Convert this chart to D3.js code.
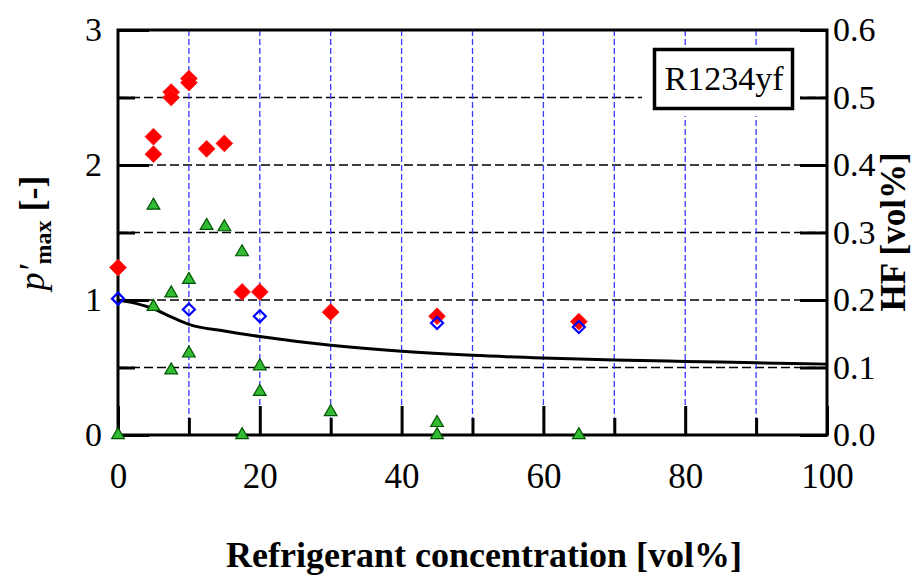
<!DOCTYPE html>
<html>
<head>
<meta charset="utf-8">
<script src="https://cdn.jsdelivr.net/npm/d3@7"></script>
<style>
  html, body { margin: 0; padding: 0; background: #fff; }
  svg, svg text { font-family: "Liberation Serif", "Times New Roman", serif !important; }
</style>
</head>
<body>
<svg id="chart" width="914" height="576"></svg>
<script>
// ---------------- data ----------------
const xTicks = [0, 20, 40, 60, 80, 100];
const xMinorTicks = [10, 30, 50, 70, 90];
const yLeftTicks = [0, 1, 2, 3];
const yLeftMinorTicks = [0.5, 1.5, 2.5];
const yRightTicks = [0, 0.1, 0.2, 0.3, 0.4, 0.5, 0.6];

// red filled diamonds: p'max (left axis)
const redConc = [0, 5, 5, 7.5, 7.5, 10, 10, 12.5, 15, 17.5, 20, 30, 45, 65];
const redP    = [1.24, 2.21, 2.08, 2.54, 2.50, 2.64, 2.61, 2.12, 2.16, 1.06, 1.06, 0.91, 0.88, 0.84];

// blue open diamonds: p'max (left axis)
const blueConc = [0, 10, 20, 45, 65];
const blueP    = [1.01, 0.93, 0.88, 0.83, 0.80];

// green triangles: HF [vol%] (right axis)
const greenConc = [0, 5, 5, 7.5, 7.5, 10, 10, 12.5, 15, 17.5, 17.5, 20, 20, 30, 45, 45, 65];
const greenHF   = [0, 0.34, 0.19, 0.21, 0.096, 0.23, 0.121, 0.31, 0.308, 0.271, 0, 0.102, 0.064, 0.034, 0.018, 0, 0];

// black solid curve: p'max (left axis)
const curveConc = [0, 2.5, 5, 7.5, 10, 15, 20, 30, 40, 50, 60, 70, 80, 90, 100];
const curveP    = [1.0, 0.975, 0.935, 0.875, 0.82, 0.77, 0.73, 0.665, 0.62, 0.59, 0.57, 0.555, 0.545, 0.535, 0.525];

const legendLabel = "R1234yf";

// ---------------- layout ----------------
const FONT = "'Liberation Serif', 'Times New Roman', serif";
const L = 118, R = 827, T = 30, B = 435;
const svg = d3.select("#chart");

const x  = d3.scaleLinear().domain([0, 100]).range([L, R]);
const yL = d3.scaleLinear().domain([0, 3]).range([B, T]);
const yR = d3.scaleLinear().domain([0, 0.6]).range([B, T]);

// square diamond symbol (rotated square)
const squareDiamond = {
  draw(ctx, size) {
    const r = Math.sqrt(size / 2);
    ctx.moveTo(0, -r); ctx.lineTo(r, 0); ctx.lineTo(0, r); ctx.lineTo(-r, 0); ctx.closePath();
  }
};

// ---------------- grid ----------------
const grid = svg.append("g");
grid.selectAll("line.h")
  .data([0.5, 1, 1.5, 2, 2.5])
  .join("line")
  .attr("x1", L).attr("x2", R)
  .attr("y1", d => yL(d)).attr("y2", d => yL(d))
  .attr("stroke", "#000").attr("stroke-width", 1.6)
  .attr("stroke-dasharray", "9,4");
grid.selectAll("line.v")
  .data(d3.range(10, 100, 10))
  .join("line")
  .attr("x1", d => x(d)).attr("x2", d => x(d))
  .attr("y1", T).attr("y2", B)
  .attr("stroke", "#3838ff").attr("stroke-width", 1.3)
  .attr("stroke-dasharray", "6,3");

// ---------------- legend box (covers grid) ----------------
svg.append("rect")
  .attr("x", 642).attr("y", 45).attr("width", 158).attr("height", 71)
  .attr("fill", "#fff");
svg.append("rect")
  .attr("x", 654.5).attr("y", 49.5).attr("width", 138).attr("height", 59)
  .attr("fill", "#fff").attr("stroke", "#000").attr("stroke-width", 3.5);
svg.append("text")
  .attr("x", 724).attr("y", 90)
  .attr("text-anchor", "middle")
  .style("font-family", FONT)
  .attr("font-size", 34)
  .text(legendLabel);

// ---------------- axes ----------------
function styleAxis(g, fs) {
  g.attr("font-family", null);
  g.select(".domain").remove();
  g.selectAll(".tick line").attr("stroke", "#000").attr("stroke-width", 3);
  g.selectAll(".tick text").attr("fill", "#000").attr("font-size", fs)
    .style("font-family", FONT);
}

// left axis
svg.append("g").attr("transform", `translate(${L},0)`)
  .call(d3.axisLeft(yL).tickValues(yLeftTicks).tickSize(-31).tickPadding(16).tickFormat(d3.format("d")))
  .call(g => styleAxis(g, 34));
svg.append("g").attr("transform", `translate(${L},0)`)
  .call(d3.axisLeft(yL).tickValues(yLeftMinorTicks).tickSize(-17).tickFormat(""))
  .call(g => styleAxis(g, 34));

// right axis
svg.append("g").attr("transform", `translate(${R},0)`)
  .call(d3.axisRight(yR).tickValues(yRightTicks).tickSize(-27).tickPadding(6).tickFormat(d3.format(".1f")))
  .call(g => styleAxis(g, 34));

// bottom axis
svg.append("g").attr("transform", `translate(0,${B})`)
  .call(d3.axisBottom(x).tickValues(xTicks).tickSize(-29).tickPadding(28).tickFormat(d3.format("d")))
  .call(g => styleAxis(g, 35));
svg.append("g").attr("transform", `translate(0,${B})`)
  .call(d3.axisBottom(x).tickValues(xMinorTicks).tickSize(-17).tickFormat(""))
  .call(g => styleAxis(g, 35));

// frame
svg.append("rect")
  .attr("x", L).attr("y", T).attr("width", R - L).attr("height", B - T)
  .attr("fill", "none").attr("stroke", "#000").attr("stroke-width", 3);

// ---------------- curve ----------------
const line = d3.line()
  .x((d, i) => x(curveConc[i]))
  .y((d, i) => yL(curveP[i]))
  .curve(d3.curveMonotoneX);
svg.append("path")
  .attr("d", line(curveConc))
  .attr("fill", "none").attr("stroke", "#000").attr("stroke-width", 3);

// ---------------- markers ----------------
const diamondRed = d3.symbol().type(squareDiamond).size(140);
svg.append("g").selectAll("path")
  .data(redConc.map((c, i) => [c, redP[i]]))
  .join("path")
  .attr("transform", d => `translate(${x(d[0])},${yL(d[1])})`)
  .attr("d", diamondRed)
  .attr("fill", "#ff0000").attr("stroke", "#ff2020").attr("stroke-width", 1);

const diamondBlue = d3.symbol().type(squareDiamond).size(72);
svg.append("g").selectAll("path")
  .data(blueConc.map((c, i) => [c, blueP[i]]))
  .join("path")
  .attr("transform", d => `translate(${x(d[0])},${yL(d[1])})`)
  .attr("d", diamondBlue)
  .attr("fill", "none").attr("stroke", "#0000ff").attr("stroke-width", 2.2);

const tri = d3.symbol().type(d3.symbolTriangle).size(70);
svg.append("g").selectAll("path")
  .data(greenConc.map((c, i) => [c, greenHF[i]]))
  .join("path")
  .attr("transform", d => `translate(${x(d[0])},${yR(d[1])})`)
  .attr("d", tri)
  .attr("fill", "#33bb33").attr("stroke", "#005500").attr("stroke-width", 1.2);

// ---------------- axis titles ----------------
const yt = svg.append("text")
  .attr("transform", "translate(44,233) rotate(-90)")
  .attr("text-anchor", "middle")
  .style("font-family", FONT)
  .attr("font-size", 36).attr("fill", "#000");
yt.append("tspan").attr("font-style", "italic").text("p′");
yt.append("tspan").attr("font-weight", "bold").attr("font-size", 24).attr("dy", 7).text("max");
yt.append("tspan").attr("font-weight", "bold").attr("dy", -7).text(" [-]");

svg.append("text")
  .attr("transform", "translate(905,232) rotate(-90)")
  .attr("text-anchor", "middle")
  .style("font-family", FONT)
  .attr("font-size", 35).attr("font-weight", "bold")
  .text("HF [vol%]");

svg.append("text")
  .attr("x", 484).attr("y", 567)
  .attr("text-anchor", "middle")
  .style("font-family", FONT)
  .attr("font-size", 36).attr("font-weight", "bold")
  .text("Refrigerant concentration [vol%]");
</script>
</body>
</html>
